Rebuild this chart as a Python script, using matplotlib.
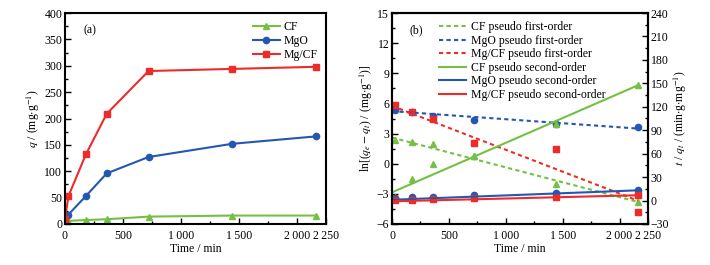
import matplotlib
matplotlib.use("Agg")
import matplotlib.pyplot as plt
from matplotlib.ticker import MultipleLocator, FixedLocator

plt.rcParams['font.family'] = ['Liberation Serif', 'DejaVu Serif']
plt.rcParams['mathtext.fontset'] = 'stix'
plt.rcParams['font.size'] = 8.5
plt.rcParams['axes.unicode_minus'] = True
plt.rcParams['lines.dashed_pattern'] = (2.0, 1.6)

GREEN = '#74c044'
BLUE = '#2458b0'
RED = '#ee2b2b'

# (a) adsorption capacity vs time
time_a = [0, 30, 180, 360, 720, 1440, 2160]
q_cf = [2, 6, 7.5, 9, 14, 16, 16]
q_mgo = [5, 18, 53, 96, 127, 152, 166]
q_mgcf = [10, 53, 132, 209, 290, 294, 298]

# (b) kinetic fits
time_b = [30, 180, 360, 720, 1440, 2160]
# pseudo first-order: ln(qe - qt), left axis
pfo_cf = [2.4, 2.2, 2.0, 0.75, -2.0, -3.8]
pfo_mgo = [5.3, 5.1, 4.75, 4.4, 4.0, 3.65]
pfo_mgcf = [5.8, 5.1, 4.5, 2.05, 1.5, -4.8]
# pseudo second-order: t/qt, right axis
pso_cf = [4.7, 27.9, 46.5, 56.8, 98.6, 147.4]
pso_mgo = [2.8, 4.1, 4.7, 6.6, 9.9, 13.1]
pso_mgcf = [0.9, 0.9, 1.5, 2.8, 4.7, 7.3]

# fitted lines, end points
fit_t = [0, 2160]
fit_pfo_cf = [2.6, -3.8]
fit_pfo_mgo = [5.23, 3.5]
fit_pfo_mgcf = [5.75, -3.67]
fit_pso_cf = [10.5, 147.4]
fit_pso_mgo = [1.0, 13.1]
fit_pso_mgcf = [-1.0, 6.8]

fig = plt.figure(figsize=(7.1, 2.65), dpi=100)
ax1 = fig.add_axes([65 / 710, 1 - 224 / 265, 261 / 710, 211 / 265])
ax2 = fig.add_axes([392 / 710, 1 - 224 / 265, 256 / 710, 211 / 265])
ax3 = ax2.twinx()

MS = 4.5


def style_x(ax):
    ax.set_xlim(0, 2250)
    ax.xaxis.set_major_locator(FixedLocator([0, 500, 1000, 1500, 2000, 2250]))
    ax.set_xticklabels(['0', '500', '1\u2009000', '1\u2009500', '2\u2009000', '2\u2009250'])
    ax.xaxis.set_minor_locator(MultipleLocator(250))
    ax.set_xlabel('Time / min', labelpad=1)
    for s in ax.spines.values():
        s.set_linewidth(1.5)


def style_ticks(ax, **kw):
    ax.tick_params(which='both', direction='in', pad=2, **kw)
    ax.tick_params(axis='x', which='both', pad=4)
    ax.tick_params(which='major', length=4, width=1)
    ax.tick_params(which='minor', length=2.5, width=1)


# ---- panel (a)
ax1.plot(time_a, q_cf, color=GREEN, marker='^', ms=MS, lw=1.5, label='CF')
ax1.plot(time_a, q_mgo, color=BLUE, marker='o', ms=MS, lw=1.5, label='MgO')
ax1.plot(time_a, q_mgcf, color=RED, marker='s', ms=MS, lw=1.5, label='Mg/CF')
style_x(ax1)
ax1.set_ylim(0, 400)
ax1.yaxis.set_major_locator(MultipleLocator(50))
ax1.yaxis.set_minor_locator(MultipleLocator(25))
style_ticks(ax1, top=False, right=False)
ax1.set_ylabel(r'$q$ / (mg$\cdot$g$^{-1}$)', labelpad=2)
ax1.text(0.07, 0.92, '(a)', transform=ax1.transAxes, va='center')
ax1.legend(loc='upper right', frameon=False, handlelength=2.3, borderaxespad=0.3,
           labelspacing=0.15, handletextpad=0.3)

# ---- panel (b)
ax2.plot(time_b, pfo_cf, ls='none', marker='^', ms=MS, color=GREEN)
ax2.plot(time_b, pfo_mgo, ls='none', marker='o', ms=MS, color=BLUE)
ax2.plot(time_b, pfo_mgcf, ls='none', marker='s', ms=MS, color=RED)
l1, = ax2.plot(fit_t, fit_pfo_cf, ls='--', lw=1.5, color=GREEN, label='CF pseudo first-order')
l2, = ax2.plot(fit_t, fit_pfo_mgo, ls='--', lw=1.5, color=BLUE, label='MgO pseudo first-order')
l3, = ax2.plot(fit_t, fit_pfo_mgcf, ls='--', lw=1.5, color=RED, label='Mg/CF pseudo first-order')

ax3.plot(time_b, pso_cf, ls='none', marker='^', ms=MS, color=GREEN)
ax3.plot(time_b, pso_mgo, ls='none', marker='o', ms=MS, color=BLUE)
ax3.plot(time_b, pso_mgcf, ls='none', marker='s', ms=MS, color=RED)
l4, = ax3.plot(fit_t, fit_pso_cf, ls='-', lw=1.5, color=GREEN, label='CF pseudo second-order')
l5, = ax3.plot(fit_t, fit_pso_mgo, ls='-', lw=1.5, color=BLUE, label='MgO pseudo second-order')
l6, = ax3.plot(fit_t, fit_pso_mgcf, ls='-', lw=1.5, color=RED, label='Mg/CF pseudo second-order')

style_x(ax2)
ax2.set_ylim(-6, 15)
ax2.yaxis.set_major_locator(MultipleLocator(3))
ax2.yaxis.set_minor_locator(MultipleLocator(1.5))
style_ticks(ax2, top=False, right=False)
ax2.set_ylabel(r'ln[($q_e-q_t$) / (mg$\cdot$g$^{-1}$)]', labelpad=1)
ax2.text(0.07, 0.92, '(b)', transform=ax2.transAxes, va='center')

ax3.set_ylim(-30, 240)
ax3.yaxis.set_major_locator(MultipleLocator(30))
ax3.yaxis.set_minor_locator(MultipleLocator(15))
style_ticks(ax3)
ax3.set_ylabel(r'$t$ / $q_t$ / (min$\cdot$g$\cdot$mg$^{-1}$)', labelpad=2)
for s in ax3.spines.values():
    s.set_linewidth(1.5)

ax3.legend(handles=[l1, l2, l3, l4, l5, l6], loc='upper left', bbox_to_anchor=(0.15, 1.0),
           frameon=False, handlelength=2.3, borderaxespad=0.3, labelspacing=0.13,
           handletextpad=0.4)

fig.savefig('out.png', dpi=100)
